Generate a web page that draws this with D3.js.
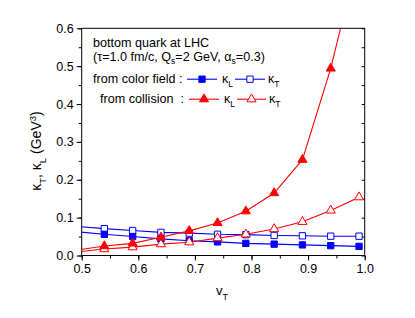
<!DOCTYPE html>
<html>
<head>
<meta charset="utf-8">
<script src="https://cdn.jsdelivr.net/npm/d3@7"></script>
<style>
  body { margin: 0; background: #fff; }
  text { font-family: "Liberation Sans", Arial, sans-serif; fill: #000; }
</style>
</head>
<body>
<div id="chart"></div>
<script>

// data (first point lies just left of the axis, gets clipped)
var vT = [0.49, 0.54, 0.59, 0.64, 0.69, 0.74, 0.79, 0.84, 0.89, 0.94, 0.99];
var kappaL_field = [0.063, 0.056, 0.050, 0.044, 0.039, 0.036, 0.032, 0.030, 0.028, 0.026, 0.024];
var kappaT_field = [0.077, 0.071, 0.066, 0.061, 0.059, 0.056, 0.055, 0.053, 0.052, 0.051, 0.051];
var kappaL_coll  = [0.014, 0.025, 0.032, 0.048, 0.065, 0.086, 0.117, 0.165, 0.253, 0.494, 0.80];
var kappaT_coll  = [0.009, 0.017, 0.022, 0.030, 0.035, 0.046, 0.056, 0.070, 0.089, 0.119, 0.154];
var xTicks = [0.5, 0.6, 0.7, 0.8, 0.9, 1.0];
var yTicks = [0.0, 0.1, 0.2, 0.3, 0.4, 0.5, 0.6];

var W = 415, H = 318;
var pLeft = 81.7, pRight = 364.7, pTop = 28.3, pBottom = 255.5;

var svg = d3.select("#chart").append("svg")
    .attr("width", W).attr("height", H);

var x = d3.scaleLinear().domain([0.5, 1.0]).range([pLeft, pRight]);
var y = d3.scaleLinear().domain([0, 0.6]).range([pBottom, pTop]);

// clip for the curves
svg.append("clipPath").attr("id", "plotclip")
  .append("rect")
    .attr("x", pLeft).attr("y", pTop)
    .attr("width", pRight - pLeft).attr("height", pBottom - pTop);

var minorX = d3.range(0.5, 1.0001, 0.05);
var minorY = d3.range(0, 0.6001, 0.05);

// bottom axis: major + minor outside
svg.append("g")
    .attr("transform", "translate(0," + pBottom + ")")
    .call(d3.axisBottom(x).tickValues(minorX).tickSize(3).tickFormat(""))
    .call(g => g.select(".domain").remove());
svg.append("g")
    .attr("class", "xaxis")
    .attr("transform", "translate(0," + pBottom + ")")
    .call(d3.axisBottom(x).tickValues(xTicks).tickSize(5).tickPadding(4)
      .tickFormat(d3.format(".1f")))
    .call(g => g.select(".domain").remove());

// left axis
svg.append("g")
    .attr("transform", "translate(" + pLeft + ",0)")
    .call(d3.axisLeft(y).tickValues(minorY).tickSize(3).tickFormat(""))
    .call(g => g.select(".domain").remove());
svg.append("g")
    .attr("class", "yaxis")
    .attr("transform", "translate(" + pLeft + ",0)")
    .call(d3.axisLeft(y).tickValues(yTicks).tickSize(5).tickPadding(3)
      .tickFormat(d3.format(".1f")))
    .call(g => g.select(".domain").remove());

// right axis: ticks pointing inward
svg.append("g")
    .attr("transform", "translate(" + pRight + ",0)")
    .call(d3.axisRight(y).tickValues(minorY).tickSize(-3).tickFormat(""))
    .call(g => g.select(".domain").remove());

svg.selectAll(".tick line").attr("stroke", "#000");
svg.selectAll(".xaxis text, .yaxis text")
    .style("font-size", "12.5px")
    .style("font-family", "'Liberation Sans', Arial, sans-serif");

// frame
svg.append("rect")
    .attr("x", pLeft).attr("y", pTop)
    .attr("width", pRight - pLeft).attr("height", pBottom - pTop)
    .attr("fill", "none").attr("stroke", "#000").attr("stroke-width", 1);

// series
var series = [
  {vals: kappaT_field, color: "#0000ff", shape: "square", filled: false},
  {vals: kappaL_field, color: "#0000ff", shape: "square", filled: true},
  {vals: kappaT_coll,  color: "#ff0000", shape: "triangle", filled: false},
  {vals: kappaL_coll,  color: "#ff0000", shape: "triangle", filled: true}
];

var line = d3.line()
    .x(function(d) { return x(d[0]); })
    .y(function(d) { return y(d[1]); });

function marker(sel, s) {
  var sym = s.shape == "square"
    ? d3.symbol().type(d3.symbolSquare).size(40)
    : d3.symbol().type(d3.symbolTriangle).size(36);
  sel.attr("d", sym)
    .attr("fill", s.filled ? s.color : "#fff")
    .attr("stroke", s.color)
    .attr("stroke-width", 1);
}

var plot = svg.append("g").attr("clip-path", "url(#plotclip)");

series.forEach(function(s) {
  var pts = vT.map(function(v, i) { return [v, s.vals[i]]; });
  plot.append("path")
      .datum(pts)
      .attr("d", line)
      .attr("fill", "none")
      .attr("stroke", s.color)
      .attr("stroke-width", 1.1);
  plot.selectAll(null)
    .data(pts)
    .enter().append("path")
      .attr("transform", function(d) { return "translate(" + x(d[0]) + "," + y(d[1]) + ")"; })
      .call(marker, s);
});

// legend
var fs = "12.6px";
svg.append("text").attr("x", 93).attr("y", 46.5).style("font-size", fs)
    .text("bottom quark at LHC");

var t2 = svg.append("text").attr("x", 93).attr("y", 61).style("font-size", fs);
t2.append("tspan").text("(\u03c4=1.0 fm/c, Q");
t2.append("tspan").attr("dy", 3).style("font-size", "8.5px").text("s");
t2.append("tspan").attr("dy", -3).text("=2 GeV, \u03b1");
t2.append("tspan").attr("dy", 3).style("font-size", "8.5px").text("s");
t2.append("tspan").attr("dy", -3).text("=0.3)");

var legendRows = [
  {label: "from color field :", tx: 93, y: 83, items: [
    {s: series[1], x0: 187, x1: 217, kx: 222, sub: "L"},
    {s: series[0], x0: 235, x1: 265, kx: 268, sub: "T"}]},
  {label: "from collision  :", tx: 100, y: 103, items: [
    {s: series[3], x0: 189, x1: 219, kx: 224, sub: "L"},
    {s: series[2], x0: 237, x1: 266, kx: 269, sub: "T"}]}
];

legendRows.forEach(function(r) {
  svg.append("text").attr("x", r.tx).attr("y", r.y).style("font-size", fs)
      .style("white-space", "pre").attr("xml:space", "preserve")
      .text(r.label);
  r.items.forEach(function(it) {
    var cy = r.y - 3.8;
    svg.append("line")
        .attr("x1", it.x0).attr("x2", it.x1).attr("y1", cy).attr("y2", cy)
        .attr("stroke", it.s.color).attr("stroke-width", 1.1);
    svg.append("path")
        .attr("transform", "translate(" + ((it.x0 + it.x1) / 2) + "," + cy + ")")
        .call(marker, it.s);
    var k = svg.append("text").attr("x", it.kx).attr("y", r.y).style("font-size", fs);
    k.append("tspan").text("\u03ba");
    k.append("tspan").attr("dy", 3.5).style("font-size", "8.5px").text(it.sub);
  });
});

// axis titles
var xt = svg.append("text").attr("x", 216).attr("y", 295).style("font-size", "13px");
xt.append("tspan").text("v");
xt.append("tspan").attr("dy", 5).style("font-size", "9px").text("T");

var yt = svg.append("text")
    .attr("transform", "translate(41,151) rotate(-90)")
    .attr("text-anchor", "middle")
    .style("font-size", "14px");
yt.append("tspan").text("\u03ba");
yt.append("tspan").attr("dy", 4.5).style("font-size", "9.5px").text("T");
yt.append("tspan").attr("dy", -4.5).text(", \u03ba");
yt.append("tspan").attr("dy", 4.5).style("font-size", "9.5px").text("L");
yt.append("tspan").attr("dy", -4.5).text(" (GeV");
yt.append("tspan").attr("dy", -5.5).style("font-size", "9.5px").text("3");
yt.append("tspan").attr("dy", 5.5).text(")");

</script>
</body>
</html>
